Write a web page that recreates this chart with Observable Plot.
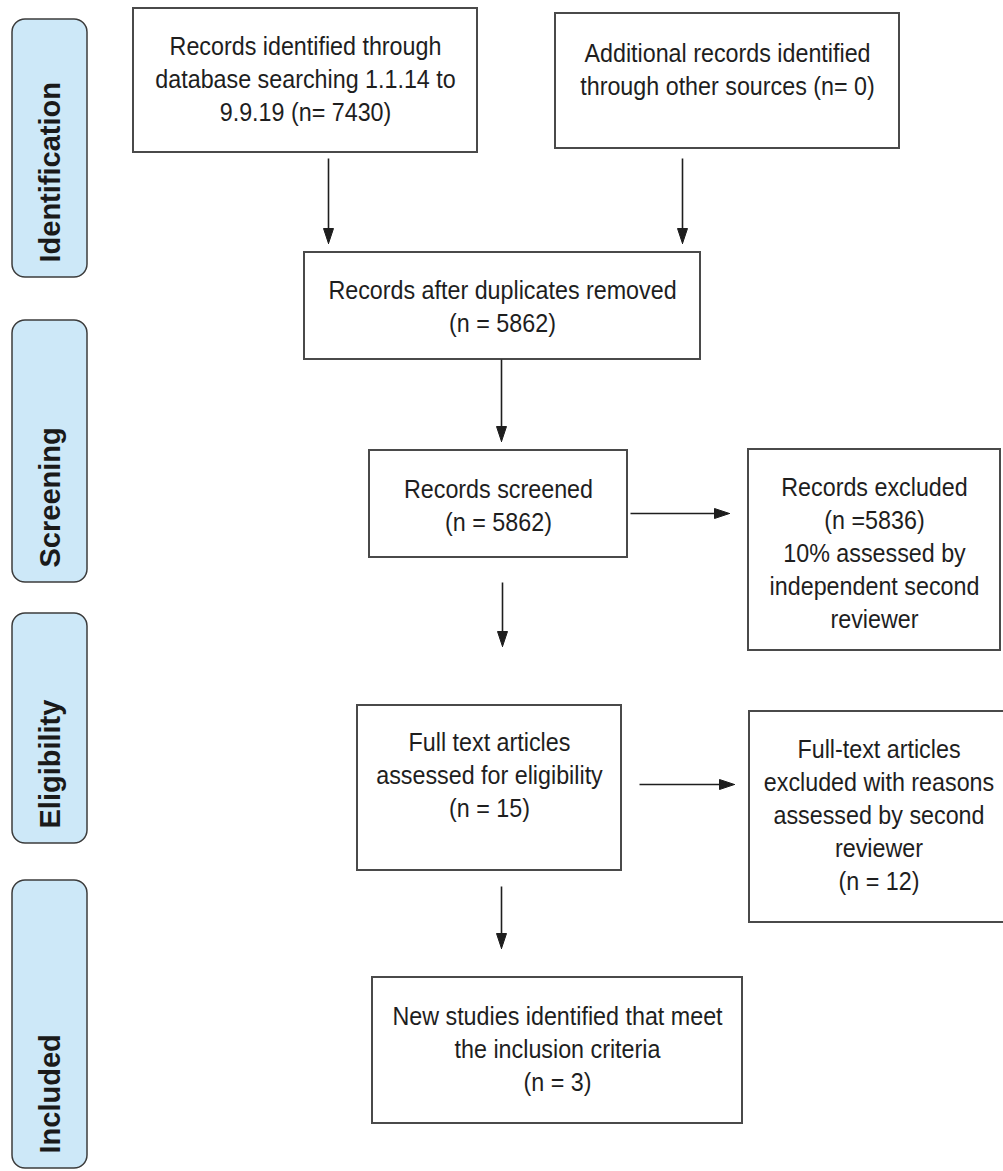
<!DOCTYPE html>
<html>
<head>
<meta charset="utf-8">
<script src="https://cdn.jsdelivr.net/npm/d3@7"></script>
<script src="https://cdn.jsdelivr.net/npm/@observablehq/plot@0.6"></script>
<style>
  html, body { margin: 0; padding: 0; background: #ffffff; }
  #chart svg { display: block; }
</style>
</head>
<body>
<div id="chart"></div>
<script>
// ---- content ----
const stages = ["Identification", "Screening", "Eligibility", "Included"];

const boxTexts = [
  "Records identified through\ndatabase searching 1.1.14 to\n9.9.19 (n= {n})",
  "Additional records identified\nthrough other sources (n= {n})",
  "Records after duplicates removed\n(n = {n})",
  "Records screened\n(n = {n})",
  "Records excluded\n(n ={n})\n10% assessed by\nindependent second\nreviewer",
  "Full text articles\nassessed for eligibility\n(n = {n})",
  "Full-text articles\nexcluded with reasons\nassessed by second\nreviewer\n(n = {n})",
  "New studies identified that meet\nthe inclusion criteria\n(n = {n})"
];
const boxCounts = [7430, 0, 5862, 5862, 5836, 15, 12, 3];

// ---- layout (diagram geometry) ----
const stageX = [12, 87];
const stageY1 = [19, 320, 613, 880];
const stageY2 = [277, 582, 843, 1168];

const boxX1 = [133, 555, 304, 369, 748, 357, 749, 372];
const boxX2 = [477, 899, 700, 627, 1000, 621, 1012, 742];
const boxY1 = [8, 13, 252, 450, 449, 705, 711, 977];
const boxY2 = [152, 148, 359, 557, 650, 870, 922, 1123];
const textY = [77, 67.5, 304.5, 503, 551, 773, 812.5, 1046.5];

// arrows: start and tip
const arrowX1 = [328, 682, 501, 630, 502, 639, 501];
const arrowY1 = [158, 158, 359, 513, 582, 784, 886];
const arrowX2 = [328, 682, 501, 729, 502, 734, 501];
const arrowY2 = [243, 243, 441, 513, 646, 784, 948];

// ---- tables built from the arrays ----
const stageData = stages.map((s, i) => ({label: s, x1: stageX[0], x2: stageX[1], y1: stageY1[i], y2: stageY2[i]}));
const boxData = boxTexts.map((t, i) => ({
  text: t.replace("{n}", String(boxCounts[i])),
  x1: boxX1[i], x2: boxX2[i], y1: boxY1[i], y2: boxY2[i],
  cx: (boxX1[i] + Math.min(boxX2[i], 1008)) / 2, cy: textY[i]
}));
const headLen = 15, headHalf = 5;
const arrows = arrowX1.map((x, i) => ({x1: x, y1: arrowY1[i], x2: arrowX2[i], y2: arrowY2[i]}));
const shafts = arrows.map(a => {
  const dx = a.x2 - a.x1, dy = a.y2 - a.y1, L = Math.hypot(dx, dy);
  return {x1: a.x1, y1: a.y1, x2: a.x2 - dx / L * (headLen - 2), y2: a.y2 - dy / L * (headLen - 2)};
});
const heads = [];
arrows.forEach((a, i) => {
  const dx = a.x2 - a.x1, dy = a.y2 - a.y1, L = Math.hypot(dx, dy);
  const ux = dx / L, uy = dy / L, px = -uy, py = ux;
  const bx = a.x2 - ux * headLen, by = a.y2 - uy * headLen;
  heads.push({id: i, x: a.x2, y: a.y2});
  heads.push({id: i, x: bx + px * headHalf, y: by + py * headHalf});
  heads.push({id: i, x: bx - px * headHalf, y: by - py * headHalf});
  heads.push({id: i, x: a.x2, y: a.y2});
});

const font = "'Liberation Sans', Arial, Helvetica, sans-serif";
const stretchY = 1.09;

const chart = Plot.plot({
  width: 1003,
  height: 1171,
  margin: 0,
  x: {domain: [0, 1003], range: [0, 1003], axis: null},
  y: {domain: [0, 1171], range: [0, 1171], axis: null},
  style: {fontFamily: font, background: "#ffffff"},
  marks: [
    // stage side panels
    Plot.rect(stageData, {x1: "x1", x2: "x2", y1: "y1", y2: "y2", rx: 13, fill: "#cde8f8", stroke: "#3c3c3c", strokeWidth: 1.5}),
    Plot.text(stageData, {
      x: d => (d.x1 + d.x2) / 2 + 1, y: d => d.y2 - 15, text: "label",
      rotate: -90, textAnchor: "start", fontSize: 29, fontWeight: "bold", fill: "#1a1a1a"
    }),
    // flow boxes
    Plot.rect(boxData, {x1: "x1", x2: "x2", y1: "y1", y2: "y2", fill: "#ffffff", stroke: "#4a4a4a", strokeWidth: 2}),
    Plot.text(boxData, {
      x: "cx", y: "cy", text: "text", fontSize: 23.3, lineHeight: 33 / (23.3 * stretchY), fill: "#1e1e1e", textAnchor: "middle"
    }),
    // arrows
    Plot.link(shafts, {x1: "x1", y1: "y1", x2: "x2", y2: "y2", stroke: "#1e1e1e", strokeWidth: 1.6}),
    Plot.line(heads, {x: "x", y: "y", z: "id", fill: "#1e1e1e", stroke: "#1e1e1e", strokeWidth: 1, curve: "linear"})
  ]
});

// slightly taller glyphs, as in the reference's narrow sans face
const textGroups = chart.querySelectorAll('g[aria-label="text"]');
if (textGroups.length > 1) {
  textGroups[1].querySelectorAll("text").forEach(t => {
    const tr = t.getAttribute("transform") || "";
    t.setAttribute("transform", tr + ` scale(1,${stretchY})`);
  });
}

document.getElementById("chart").appendChild(chart);
</script>
</body>
</html>
